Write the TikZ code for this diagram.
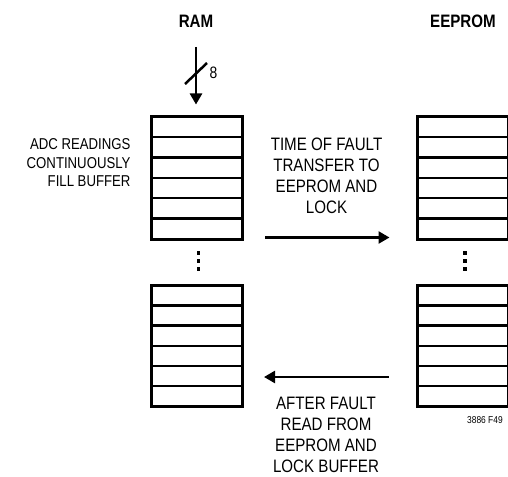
\documentclass[tikz,border=0pt]{standalone}
\usepackage{fontspec}
\setmainfont{Liberation Sans}[FakeStretch=0.84]
\usetikzlibrary{arrows.meta}
\begin{document}
\begin{tikzpicture}[x=1pt,y=-1pt,
  outerline/.style={draw=black, line width=3pt},
  rowline/.style={draw=black, line width=2.5pt},
  conn/.style={draw=black, line width=2.5pt, -{Triangle[length=11pt,width=12pt]}},
  dotsq/.style={fill=black, minimum size=3.2pt, inner sep=0pt, outer sep=0pt},
  lbl/.style={inner sep=0pt, outer sep=0pt, align=center, font=\fontsize{18}{21.2}\selectfont},
  head/.style={inner sep=0pt, outer sep=0pt, font=\fontsize{18}{21}\selectfont\bfseries}
]
\useasboundingbox (0,0) rectangle (508,476);

% buffer stacks
\foreach \xl/\yt/\h/\nm in {151/116.5/122.5/ramA, 151/285.5/120.5/ramB, 417/116.5/122.5/eeA, 417/285.5/120.5/eeB}{
  \node[inner sep=0pt, outer sep=0pt, minimum width=91.5pt, minimum height=\h pt, anchor=north west] (\nm) at (\xl,\yt) {};
  \foreach \i in {1,...,5}{
    \draw[rowline] (\xl,{\yt+\i*\h/6}) -- ++(91.5,0);
  }
  \draw[outerline] (\xl,\yt) rectangle ++(91.5,\h);
}

% vertical dots
\foreach \y [count=\k] in {253,261,269}{
  \node[dotsq] (rd\k) at (198.5,\y) {};
  \node[dotsq] (ed\k) at (465,\y) {};
}

% headings
\node[head, anchor=north] (ramlbl) at (196,15) {RAM};
\node[head, anchor=north] (eelbl) at (463,15) {EEPROM};

% input bus arrow with width mark
\coordinate (busin) at (196,47);
\coordinate (bustip) at (196,104.5);
\draw[conn] (busin) -- (bustip);
\coordinate (sl1) at (185,84);
\coordinate (sl2) at (207,63);
\draw[line width=2.5pt] (sl1) -- (sl2);
\node[inner sep=0pt, font=\fontsize{16.5}{18}\selectfont] (buswidth) at (213.5,72.5) {8};

% side texts
\node[inner sep=0pt, outer sep=0pt, align=right, anchor=north east, font=\fontsize{15.7}{18.2}\selectfont] (adctext) at (130.5,139) {ADC READINGS\\CONTINUOUSLY\\FILL BUFFER};
\node[lbl, anchor=north] (faulttext) at (326.5,137.8) {TIME OF FAULT\\TRANSFER TO\\EEPROM AND\\LOCK};
\node[lbl, anchor=north] (aftertext) at (326,397) {AFTER FAULT\\READ FROM\\EEPROM AND\\LOCK BUFFER};

% transfer arrows
\coordinate (tr1) at (265,237.5);
\coordinate (tr2) at (389.5,237.5);
\draw[conn] (tr1) -- (tr2);
\coordinate (rb1) at (388.5,377);
\coordinate (rb2) at (264,377);
\draw[conn] (rb1) -- (rb2);

% figure id
\node[inner sep=0pt, anchor=west, font=\fontsize{10}{12}\selectfont] (figid) at (467,420) {3886 F49};
\end{tikzpicture}
\end{document}
